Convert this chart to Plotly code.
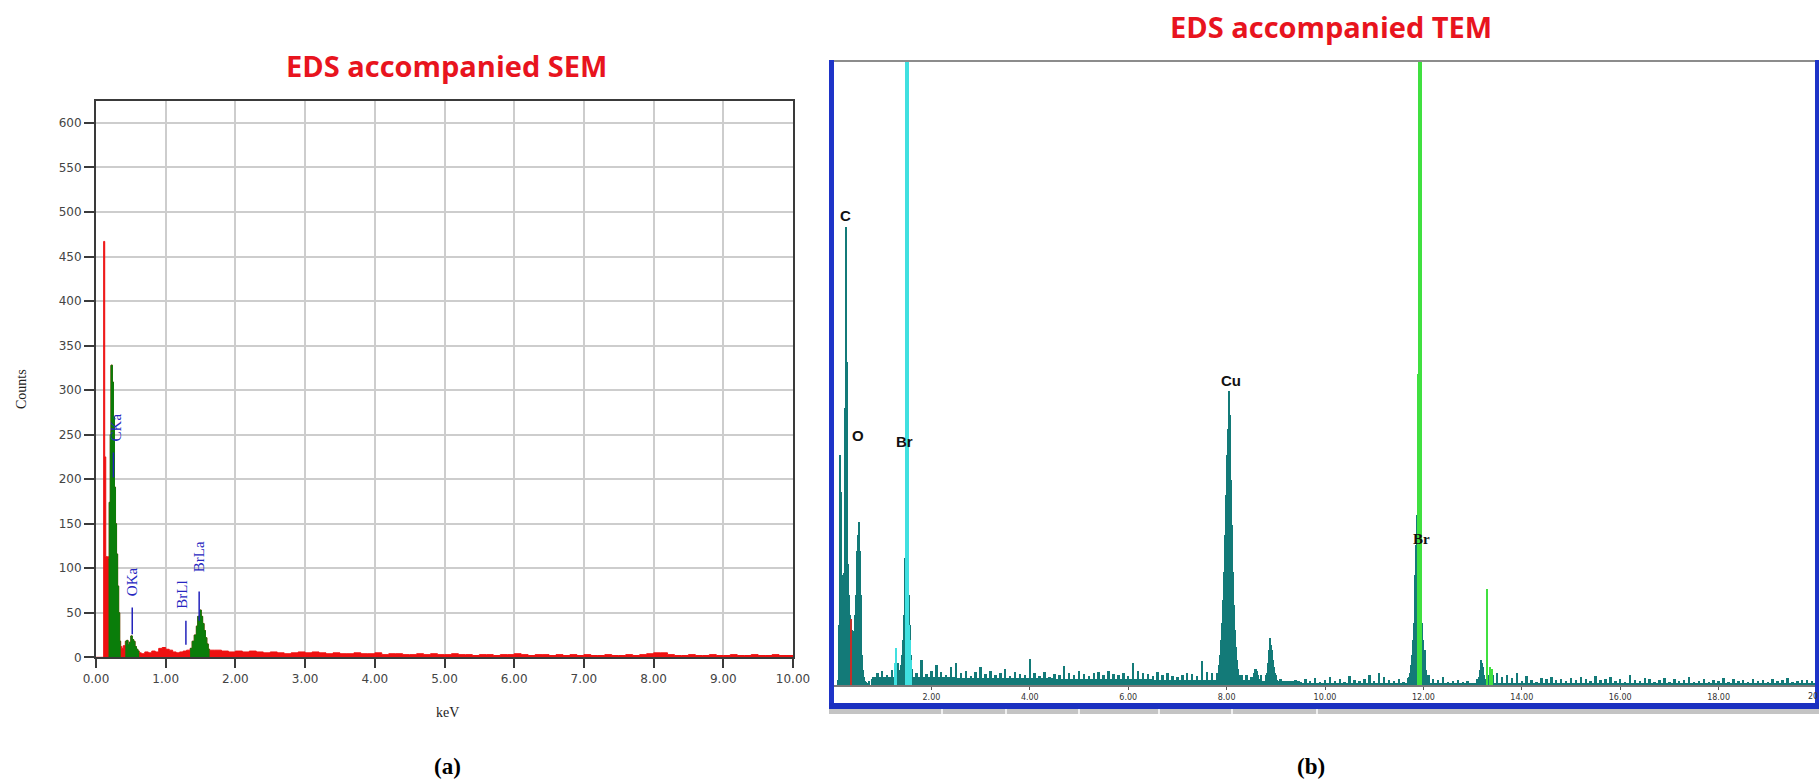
import plotly.graph_objects as go

W, H = 1819, 783

# ---------------- Panel (a): EDS accompanied SEM ----------------
sem_kev = [
    0.00, 0.10, 0.11, 0.125, 0.14, 0.165,
    0.18, 0.19, 0.205, 0.215, 0.235, 0.25, 0.265, 0.28, 0.295, 0.31, 0.325, 0.34,
    0.355, 0.37, 0.39,
    0.42, 0.44, 0.46, 0.48, 0.50, 0.52, 0.54, 0.56, 0.58, 0.60,
    0.62, 0.65, 0.70, 0.75, 0.80, 0.85, 0.90, 0.95, 1.00, 1.05, 1.10, 1.15, 1.20, 1.25, 1.30,
    1.35, 1.38, 1.41, 1.44, 1.46, 1.49, 1.51, 1.53, 1.55, 1.57, 1.59, 1.61,
    1.63, 1.70, 1.80, 1.90, 2.00, 2.10, 2.20, 2.30, 2.40, 2.50, 2.60, 2.70, 2.80, 2.90,
    3.00, 3.10, 3.20, 3.30, 3.40, 3.50, 3.60, 3.70, 3.80, 3.90,
    4.00, 4.10, 4.20, 4.30, 4.40, 4.50, 4.60, 4.70, 4.80, 4.90,
    5.00, 5.10, 5.20, 5.30, 5.40, 5.50, 5.60, 5.70, 5.80, 5.90,
    6.00, 6.10, 6.20, 6.30, 6.40, 6.50, 6.60, 6.70, 6.80, 6.90,
    7.00, 7.10, 7.20, 7.30, 7.40, 7.50, 7.60, 7.70, 7.80, 7.90,
    8.00, 8.10, 8.20, 8.30, 8.40, 8.50, 8.60, 8.70, 8.80, 8.90,
    9.00, 9.10, 9.20, 9.30, 9.40, 9.50, 9.60, 9.70, 9.80, 9.90, 10.00,
]
sem_counts = [
    0, 0, 467, 225, 113, 113,
    110, 174, 250, 328, 309, 270, 191, 150, 116, 80, 50, 18,
    12, 10, 13,
    18, 19, 14, 17, 24, 20, 18, 12, 9, 7,
    5, 4, 6, 5, 7, 6, 10, 11, 9, 8, 6, 5, 6, 7, 8,
    10, 18, 25, 35, 46, 53, 46, 38, 30, 22, 15, 9,
    8, 8, 7, 6, 7, 6, 7, 6, 5, 6, 5, 4, 5, 6,
    5, 6, 5, 4, 5, 4, 4, 5, 4, 4,
    5, 3, 4, 4, 3, 3, 4, 3, 4, 3,
    3, 4, 3, 3, 2, 3, 3, 2, 3, 3,
    4, 3, 2, 3, 3, 2, 3, 2, 3, 2,
    3, 2, 2, 3, 2, 2, 3, 2, 3, 4,
    5, 5, 3, 2, 2, 3, 2, 2, 3, 2,
    2, 3, 2, 2, 3, 2, 2, 3, 2, 2, 2,
]
sem_green_ranges = [(0.18, 0.34), (0.42, 0.60), (1.35, 1.61)]

sem_line_labels = ["CKa", "OKa", "BrLl", "BrLa"]
sem_label_kev = [0.285, 0.51, 1.23, 1.47]
sem_label_y = [258, 85, 70, 113]
sem_marker_kev = [0.25, 0.52, 1.29, 1.48]
sem_marker_y0 = [202, 26, 14, 41]
sem_marker_y1 = [230, 56, 41, 74]

sem_yticks = [0, 50, 100, 150, 200, 250, 300, 350, 400, 450, 500, 550, 600]
sem_xticks = [0, 1, 2, 3, 4, 5, 6, 7, 8, 9, 10]

# ---------------- Panel (b): EDS accompanied TEM ----------------
tem_noise_kev = [
    0.8, 0.9, 1.0, 1.1, 1.2, 1.3, 1.4, 1.5, 1.6, 1.7,
    1.8, 1.9, 2.0, 2.1, 2.2, 2.3, 2.4, 2.5, 2.6, 2.7,
    2.8, 2.9, 3.0, 3.1, 3.2, 3.3, 3.4, 3.5, 3.6, 3.7,
    3.8, 3.9, 4.0, 4.1, 4.2, 4.3, 4.4, 4.5, 4.6, 4.7,
    4.8, 4.9, 5.0, 5.1, 5.2, 5.3, 5.4, 5.5, 5.6, 5.7,
    5.8, 5.9, 6.0, 6.1, 6.2, 6.3, 6.4, 6.5, 6.6, 6.7,
    6.8, 6.9, 7.0, 7.1, 7.2, 7.3, 7.4, 7.5, 7.6, 7.7,
    7.8, 7.9, 8.0, 8.1, 8.2, 8.3, 8.4, 8.5, 8.6, 8.7,
    8.8, 8.9, 9.0, 9.1, 9.2, 9.3, 9.4, 9.5, 9.6, 9.7,
    9.8, 9.9, 10.0, 10.1, 10.2, 10.3, 10.4, 10.5, 10.6, 10.7,
    10.8, 10.9, 11.0, 11.1, 11.2, 11.3, 11.4, 11.5, 11.6, 11.7,
    11.8, 11.9, 12.0, 12.1, 12.2, 12.3, 12.4, 12.5, 12.6, 12.7,
    12.8, 12.9, 13.0, 13.1, 13.2, 13.3, 13.4, 13.5, 13.6, 13.7,
    13.8, 13.9, 14.0, 14.1, 14.2, 14.3, 14.4, 14.5, 14.6, 14.7,
    14.8, 14.9, 15.0, 15.1, 15.2, 15.3, 15.4, 15.5, 15.6, 15.7,
    15.8, 15.9, 16.0, 16.1, 16.2, 16.3, 16.4, 16.5, 16.6, 16.7,
    16.8, 16.9, 17.0, 17.1, 17.2, 17.3, 17.4, 17.5, 17.6, 17.7,
    17.8, 17.9, 18.0, 18.1, 18.2, 18.3, 18.4, 18.5, 18.6, 18.7,
    18.8, 18.9, 19.0, 19.1, 19.2, 19.3, 19.4, 19.5, 19.6, 19.7,
    19.8, 19.9, 20.0,
]
tem_noise_counts = [
    6, 12, 14, 10, 15, 12, 18, 9, 16, 12,
    25, 11, 14, 20, 13, 10, 18, 22, 12, 14,
    9, 13, 18, 11, 14, 10, 12, 16, 9, 13,
    11, 10, 26, 12, 9, 13, 8, 11, 10, 19,
    12, 10, 14, 11, 9, 12, 13, 10, 14, 11,
    10, 12, 9, 22, 14, 12, 11, 9, 13, 10,
    12, 9, 8, 10, 12, 11, 9, 24, 13, 12,
    12, 10, 10, 10, 10, 10, 10, 8, 12, 10,
    10, 10, 10, 6, 3, 2, 5, 3, 6, 4,
    7, 3, 5, 8, 4, 6, 3, 9, 5, 4,
    6, 10, 4, 12, 8, 5, 4, 6, 3, 7,
    10, 10, 10, 10, 6, 5, 8, 3, 4, 5,
    3, 4, 2, 6, 8, 10, 10, 12, 8, 10,
    7, 12, 4, 9, 5, 3, 7, 6, 8, 5,
    6, 4, 7, 5, 8, 6, 4, 9, 5, 6,
    8, 4, 6, 3, 10, 5, 4, 7, 6, 3,
    5, 7, 3, 6, 4, 5, 8, 3, 4, 6,
    3, 5, 4, 7, 3, 6, 4, 5, 3, 6,
    4, 5, 3, 6, 4, 5, 7, 3, 4, 5,
    5, 4, 6,
]
# low continuous background band under the noise spikes
tem_base_kev = [0.8, 1.5, 2.5, 3.5, 4.5, 5.5, 6.5, 7.5, 8.5, 9.5, 10.5, 11.5, 12.5, 13.5, 14.5,
                15.5, 16.5, 17.5, 18.5, 19.5]
tem_base_counts = [8, 8, 7, 7, 6, 6, 5, 5, 4, 2, 2, 2, 2, 2, 2, 2, 2, 2, 2, 2]

tem_peak_kev = [
    0.10, 0.12, 0.14, 0.15, 0.16, 0.18, 0.20, 0.22, 0.24, 0.25, 0.26, 0.27, 0.28, 0.29,
    0.30, 0.32, 0.34, 0.36, 0.38, 0.40, 0.42, 0.44, 0.46, 0.48, 0.50, 0.52, 0.54, 0.56,
    0.58, 0.60, 0.62, 0.64, 0.66, 0.68, 0.70, 0.72, 0.74,
    1.30, 1.32, 1.34, 1.36, 1.38, 1.40, 1.42, 1.44, 1.46, 1.48, 1.50, 1.52, 1.54, 1.56,
    1.58, 1.60, 1.62,
    7.80, 7.82, 7.84, 7.86, 7.88, 7.90, 7.92, 7.94, 7.96, 7.98, 8.00, 8.02, 8.04, 8.06,
    8.08, 8.10, 8.12, 8.14, 8.16, 8.18, 8.20, 8.22, 8.24, 8.26, 8.28, 8.30,
    8.54, 8.56, 8.58, 8.60, 8.62, 8.64, 8.66,
    8.80, 8.82, 8.84, 8.86, 8.88, 8.90, 8.92, 8.94, 8.96, 8.98, 9.00, 9.02, 9.04,
    11.70, 11.72, 11.74, 11.76, 11.78, 11.80, 11.82, 11.84, 11.86, 11.88, 11.90, 11.92,
    11.94, 11.96, 11.98, 12.00, 12.02, 12.04, 12.06, 12.08, 12.10,
    13.14, 13.16, 13.18, 13.20, 13.22, 13.24, 13.26,
]
tem_peak_counts = [
    5, 60, 106, 230, 193, 110, 106, 112, 121, 277, 418, 458, 323, 200,
    121, 90, 70, 60, 55, 50, 54, 70, 90, 134, 150, 163, 134, 90,
    54, 30, 15, 8, 4, 3, 2, 2, 4,
    10, 22, 12, 15, 20, 30, 45, 70, 127, 220, 220, 150, 90, 60,
    30, 15, 8,
    8, 12, 20, 30, 45, 62, 85, 113, 150, 190, 230, 256, 294, 270,
    240, 205, 160, 113, 80, 55, 38, 25, 16, 10, 6, 4,
    8, 12, 16, 16, 14, 10, 6,
    6, 12, 22, 35, 47, 40, 35, 25, 18, 12, 8, 5, 3,
    8, 12, 20, 30, 45, 62, 89, 110, 140, 170, 200, 180,
    130, 89, 62, 45, 30, 35, 15, 8, 5,
    8, 15, 25, 22, 18, 10, 6,
]
tem_red_kev = [0.37]
tem_red_counts = [66]
tem_cyan_kev = [1.26, 1.28, 1.54, 1.56, 1.58]
tem_cyan_counts = [22, 37, 60, 45, 25]
tem_green_kev = [11.90, 13.30, 13.36, 13.40]
tem_green_counts = [311, 96, 18, 16]
tem_marker_kev = [1.50, 11.93]           # full-height element marker lines
tem_marker_colors = ["#40e0e0", "#40e040"]
tem_full_scale = 624

tem_labels = ["C", "O", "Br", "Cu", "Br"]
tem_label_kev = [0.26, 0.50, 1.45, 8.09, 11.96]
tem_label_y = [470, 250, 244, 305, 146]
tem_label_fonts = ["Liberation Sans", "Liberation Sans", "Liberation Sans", "Liberation Sans", "Liberation Serif"]
tem_xticks = [2, 4, 6, 8, 10, 12, 14, 16, 18, 20]

# ---------------- Figure ----------------
def px_x(p):
    return p / W

def px_y(p):
    return 1 - p / H

SEM_RED = "#ee1111"
SEM_GREEN = "#0a7d0a"
TEAL = "#137a78"

fig = go.Figure()

# Panel (a) red full spectrum
fig.add_trace(go.Scatter(
    x=sem_kev, y=sem_counts, mode="lines", line=dict(shape="hv", color=SEM_RED, width=1),
    fill="tozeroy", fillcolor=SEM_RED, xaxis="x", yaxis="y", showlegend=False, hoverinfo="skip"))
# Panel (a) green peak regions
for lo, hi in sem_green_ranges:
    idx = [i for i, e in enumerate(sem_kev) if lo - 1e-9 <= e <= hi + 1e-9]
    gx = [sem_kev[i] for i in idx] + [sem_kev[idx[-1] + 1]]
    gy = [sem_counts[i] for i in idx] + [sem_counts[idx[-1]]]
    fig.add_trace(go.Scatter(
        x=gx, y=gy, mode="lines", line=dict(shape="hv", color=SEM_GREEN, width=1),
        fill="tozeroy", fillcolor=SEM_GREEN, xaxis="x", yaxis="y", showlegend=False, hoverinfo="skip"))
# Panel (a) blue line markers
for k, y0, y1 in zip(sem_marker_kev, sem_marker_y0, sem_marker_y1):
    fig.add_trace(go.Scatter(
        x=[k, k], y=[y0, y1], mode="lines", line=dict(color="#2222bb", width=1.5),
        xaxis="x", yaxis="y", showlegend=False, hoverinfo="skip"))

# Panel (b) spectrum
fig.add_trace(go.Bar(x=tem_base_kev, y=tem_base_counts, width=1.0, offset=0,
                     marker=dict(color=TEAL, line=dict(width=0)),
                     xaxis="x2", yaxis="y2", showlegend=False, hoverinfo="skip"))
fig.add_trace(go.Bar(x=tem_noise_kev, y=tem_noise_counts, width=0.05, marker=dict(color=TEAL, line=dict(width=0)),
                     xaxis="x2", yaxis="y2", showlegend=False, hoverinfo="skip"))
fig.add_trace(go.Bar(x=tem_peak_kev, y=tem_peak_counts, width=0.022, marker=dict(color=TEAL, line=dict(width=0)),
                     xaxis="x2", yaxis="y2", showlegend=False, hoverinfo="skip"))
fig.add_trace(go.Bar(x=tem_cyan_kev, y=tem_cyan_counts, width=0.02, marker=dict(color="#40e0e0", line=dict(width=0)),
                     xaxis="x2", yaxis="y2", showlegend=False, hoverinfo="skip"))
fig.add_trace(go.Bar(x=tem_green_kev, y=tem_green_counts, width=[0.07, 0.045, 0.03, 0.03],
                     marker=dict(color="#40e040", line=dict(width=0)),
                     xaxis="x2", yaxis="y2", showlegend=False, hoverinfo="skip"))
fig.add_trace(go.Bar(x=tem_red_kev, y=tem_red_counts, width=0.03, marker=dict(color="#c0302a", line=dict(width=0)),
                     xaxis="x2", yaxis="y2", showlegend=False, hoverinfo="skip"))
fig.add_trace(go.Bar(x=tem_marker_kev, y=[tem_full_scale] * len(tem_marker_kev), width=0.07,
                     marker=dict(color=tem_marker_colors, line=dict(width=0)),
                     xaxis="x2", yaxis="y2", showlegend=False, hoverinfo="skip"))

annotations = []
for t, k, y in zip(sem_line_labels, sem_label_kev, sem_label_y):
    annotations.append(dict(x=k, y=y, xref="x", yref="y", text=t, showarrow=False, textangle=-90,
                            font=dict(family="Liberation Serif", size=15, color="#2626c0"),
                            xanchor="center", yanchor="middle"))
for t, k, y, f in zip(tem_labels, tem_label_kev, tem_label_y, tem_label_fonts):
    annotations.append(dict(x=k, y=y, xref="x2", yref="y2", text="<b>%s</b>" % t, showarrow=False,
                            font=dict(family=f, size=15, color="#111111"),
                            xanchor="center", yanchor="middle"))

def paper_text(text, x, y, size, color, family, angle=0):
    annotations.append(dict(x=px_x(x), y=px_y(y), xref="paper", yref="paper", text=text, showarrow=False,
                            textangle=angle, font=dict(family=family, size=size, color=color),
                            xanchor="center", yanchor="middle"))

paper_text("<b>EDS accompanied SEM</b>", 446, 65, 29, "#e8141e", "Open Sans")
paper_text("<b>EDS accompanied TEM</b>", 1331, 26, 29, "#e8141e", "Open Sans")
paper_text("<b>(a)</b>", 447, 766, 23, "#000000", "Liberation Serif")
paper_text("<b>(b)</b>", 1311, 766, 23, "#000000", "Liberation Serif")
paper_text("Counts", 21, 389, 14, "#222222", "Liberation Serif", angle=-90)
paper_text("keV", 447, 712, 14, "#222222", "Liberation Serif")
paper_text("20", 1813, 696, 8, "#333333", "DejaVu Sans")

shapes = []
def rect(x0, y0, x1, y1, color):
    shapes.append(dict(type="rect", xref="paper", yref="paper", x0=px_x(x0), x1=px_x(x1),
                       y0=px_y(y1), y1=px_y(y0), fillcolor=color, line=dict(width=0), layer="above"))

# Panel (b) window frame
rect(832, 60, 1817, 62, "#8c8c8c")          # top border
rect(829, 60, 834, 709, "#1e34c8")          # left blue border
rect(1815, 60, 1819, 709, "#1e34c8")        # right blue border
rect(829, 703, 1819, 709, "#1a30c0")        # bottom blue band
rect(829, 709, 1819, 714, "#c4c4c4")        # gray strip
for sx in [941, 1005, 1078, 1158, 1231, 1316]:
    rect(sx, 709, sx + 2, 714, "#f0f0f0")

fig.update_layout(
    width=W, height=H, margin=dict(l=0, r=0, t=0, b=0, autoexpand=False),
    paper_bgcolor="white", plot_bgcolor="white",
    barmode="overlay", bargap=0,
    annotations=annotations, shapes=shapes,
    xaxis=dict(domain=[px_x(96), px_x(793)], range=[0, 10], tickvals=sem_xticks,
               ticktext=["%.2f" % v for v in sem_xticks], automargin=False,
               showgrid=True, gridcolor="#cdcdcd", gridwidth=2, zeroline=False,
               showline=True, linecolor="#3a3a3a", linewidth=2, mirror=True,
               ticks="outside", ticklen=9, tickwidth=2, tickcolor="#3a3a3a",
               tickfont=dict(family="DejaVu Sans", size=12, color="#444444"), anchor="y"),
    yaxis=dict(domain=[px_y(657.3), px_y(100.7)], range=[0, 625], tickvals=sem_yticks, automargin=False,
               showgrid=True, gridcolor="#cdcdcd", gridwidth=2, zeroline=False,
               showline=True, linecolor="#3a3a3a", linewidth=2, mirror=True,
               ticks="outside", ticklen=10, tickwidth=2, tickcolor="#3a3a3a",
               tickfont=dict(family="DejaVu Sans", size=12, color="#444444"), anchor="x"),
    xaxis2=dict(domain=[px_x(833), px_x(1817)], range=[0, 20], tickvals=tem_xticks[:-1],
                ticktext=["%.2f" % v for v in tem_xticks[:-1]], automargin=False,
                showgrid=False, zeroline=False, showline=True, linecolor="#7a7a7a", linewidth=2,
                ticks="outside", ticklen=3, tickwidth=1, tickcolor="#555555",
                tickfont=dict(family="DejaVu Sans", size=8, color="#333333"), anchor="y2"),
    yaxis2=dict(domain=[px_y(685), px_y(61)], range=[0, tem_full_scale], visible=False,
                automargin=False, anchor="x2"),
)

fig.write_html(
    "out.html",
    config={"displayModeBar": False},
    post_script="document.body.style.margin='0';document.body.style.padding='0';"
                "document.body.style.overflow='hidden';",
)
